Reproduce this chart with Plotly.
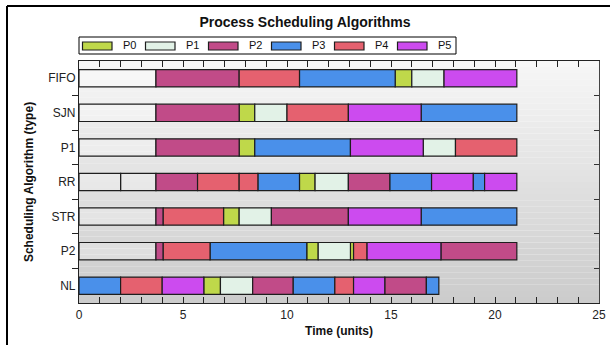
import plotly.graph_objects as go

# ---------------- data ----------------
ALGORITHMS = ["NL", "P2", "STR", "RR", "P1", "SJN", "FIFO"]  # bottom -> top
PROCESSES = ["P0", "P1", "P2", "P3", "P4", "P5"]
COLORS = {"P0": "#bfd84a", "P1": "#e2f2e7", "P2": "#c14b88",
          "P3": "#4a90ea", "P4": "#e5616f", "P5": "#cc4bef",
          "idle": "rgba(255,255,255,0.25)"}

# sequence of processes per algorithm and segment boundary times
FIFO_SEQ = ["idle", "P2", "P4", "P3", "P0", "P1", "P5"]
FIFO_T = [0, 3.7, 7.7, 10.6, 15.2, 16.0, 17.55, 21.05]

SJN_SEQ = ["idle", "P2", "P0", "P1", "P4", "P5", "P3"]
SJN_T = [0, 3.7, 7.7, 8.45, 10.0, 12.95, 16.45, 21.05]

P1_SEQ = ["idle", "P2", "P0", "P3", "P5", "P1", "P4"]
P1_T = [0, 3.7, 7.7, 8.45, 13.05, 16.55, 18.1, 21.05]

RR_SEQ = ["idle", "idle", "P2", "P4", "P4", "P3", "P0", "P1", "P2", "P3", "P5", "P3", "P5"]
RR_T = [0, 2.0, 3.7, 5.7, 7.7, 8.6, 10.6, 11.35, 12.95, 14.95, 16.95, 18.95, 19.5, 21.05]

STR_SEQ = ["idle", "P2", "P4", "P0", "P1", "P2", "P5", "P3"]
STR_T = [0, 3.7, 4.05, 6.95, 7.7, 9.25, 12.95, 16.45, 21.05]

P2_SEQ = ["idle", "P2", "P4", "P3", "P0", "P1", "P0", "P4", "P5", "P2"]
P2_T = [0, 3.7, 4.05, 6.3, 10.95, 11.5, 13.05, 13.2, 13.85, 17.4, 21.05]

NL_SEQ = ["P3", "P4", "P5", "P0", "P1", "P2", "P3", "P4", "P5", "P2", "P3"]
NL_T = [0, 2.0, 4.0, 6.0, 6.8, 8.35, 10.3, 12.3, 13.2, 14.7, 16.7, 17.3]

SCHEDULES = {"FIFO": (FIFO_SEQ, FIFO_T), "SJN": (SJN_SEQ, SJN_T),
             "P1": (P1_SEQ, P1_T), "RR": (RR_SEQ, RR_T),
             "STR": (STR_SEQ, STR_T), "P2": (P2_SEQ, P2_T),
             "NL": (NL_SEQ, NL_T)}

X_TICKS = [0, 5, 10, 15, 20, 25]

# ---------------- figure ----------------
fig = go.Figure()

for proc in ["idle"] + PROCESSES:
    ys, bases, lens = [], [], []
    for alg in ALGORITHMS:
        seq, t = SCHEDULES[alg]
        for i, p in enumerate(seq):
            if p == proc:
                ys.append(ALGORITHMS.index(alg))
                bases.append(t[i])
                lens.append(t[i + 1] - t[i])
    fig.add_trace(go.Bar(
        y=ys, x=lens, base=bases, orientation="h", width=0.5,
        name=proc, showlegend=False,
        marker=dict(color=COLORS[proc], line=dict(color="#1e1e1e", width=1.2)),
        hovertemplate=proc + ": %{base} - %{x}<extra></extra>",
    ))

# invisible trace to anchor right-side axis
fig.add_trace(go.Scatter(x=[None], y=[None], yaxis="y2", showlegend=False))

W, H = 610, 345
L, R, T, B = 79, 11, 61, 42
pw, ph = W - L - R, H - T - B

def px(xp):
    return (xp - L) / pw

def py(yp):
    return (H - B - yp) / ph

shapes = []
# gradient background of plot area
N = 40
for k in range(N):
    f = k / (N - 1)
    c = int(247 - (247 - 204) * f)
    shapes.append(dict(type="rect", xref="paper", yref="paper",
                       x0=0, x1=1, y0=1 - (k + 1) / N, y1=1 - k / N,
                       fillcolor=f"rgb({c},{c},{c})", line=dict(width=0),
                       layer="below"))
# outer frame
shapes.append(dict(type="line", xref="paper", yref="paper",
                   x0=px(7), x1=px(620), y0=py(6), y1=py(6),
                   line=dict(color="black", width=2)))
shapes.append(dict(type="line", xref="paper", yref="paper",
                   x0=px(7), x1=px(7), y0=py(6), y1=py(360),
                   line=dict(color="black", width=2)))
# legend box
shapes.append(dict(type="rect", xref="paper", yref="paper",
                   x0=px(79), x1=px(456), y0=py(54), y1=py(37),
                   fillcolor="white", line=dict(color="black", width=1)))
annotations = []
for i, p in enumerate(PROCESSES):
    sx = 82.5 + 63 * i
    shapes.append(dict(type="rect", xref="paper", yref="paper",
                       x0=px(sx), x1=px(sx + 29.5), y0=py(50), y1=py(42),
                       fillcolor=COLORS[p], line=dict(color="#1e1e1e", width=1.2)))
    annotations.append(dict(text=p, xref="paper", yref="paper",
                            x=px(sx + 38), y=py(45.5), xanchor="left",
                            yanchor="middle", showarrow=False,
                            font=dict(size=11, color="#111",
                                      family="Liberation Sans, Arial, sans-serif")))

fig.update_layout(
    width=W, height=H,
    margin=dict(l=L, r=R, t=T, b=B, autoexpand=False),
    paper_bgcolor="white", plot_bgcolor="rgba(0,0,0,0)",
    barmode="overlay",
    font=dict(family="Liberation Sans, Arial, sans-serif", size=12, color="#222"),
    title=dict(text="<b>Process Scheduling Algorithms</b>", x=0.5, xanchor="center",
               y=1 - 22 / H, yanchor="middle",
               font=dict(size=14, color="#111")),
    xaxis=dict(range=[0, 25], tickvals=X_TICKS, ticktext=[str(v) for v in X_TICKS],
               automargin=False,
               showgrid=False, zeroline=False, showline=True, linecolor="#222",
               linewidth=1.2, mirror="allticks", ticks="inside", ticklen=6,
               tickcolor="#222", tickwidth=1.2,
               minor=dict(dtick=1, tick0=0, ticks="inside", ticklen=3,
                          tickcolor="#222", showgrid=False),
               tickfont=dict(size=12, color="#222"),
               title=dict(text="<b>Time (units)</b>", standoff=6,
                          font=dict(size=12, color="#111"))),
    yaxis=dict(range=[-0.5, 6.5], tickvals=list(range(len(ALGORITHMS))),
               automargin=False,
               ticktext=ALGORITHMS, showgrid=False, zeroline=False,
               showline=True, linecolor="#222", linewidth=1.2,
               ticks="outside", ticklen=0, tickcolor="rgba(0,0,0,0)",
               minor=dict(tickmode="array",
                          tickvals=[i + 0.5 for i in range(len(ALGORITHMS) - 1)],
                          ticks="outside", ticklen=6, tickcolor="#222",
                          showgrid=False),
               tickfont=dict(size=12, color="#222"),
               title=dict(text="<b>Scheduling Algorithm (type)</b>", standoff=11,
                          font=dict(size=12, color="#111"))),
    yaxis2=dict(range=[-0.5, 6.5], overlaying="y", side="right",
                automargin=False,
                showticklabels=False, showgrid=False, zeroline=False,
                showline=True, linecolor="#444", linewidth=1.2,
                tickmode="array", tickvals=[i + 0.5 for i in range(len(ALGORITHMS) - 1)],
                ticks="inside", ticklen=5, tickcolor="#333"),
    shapes=shapes,
    annotations=annotations,
)

fig.write_html("out.html", config={"displayModeBar": False},
               post_script="document.body.style.margin='0';document.body.style.overflow='hidden';")
